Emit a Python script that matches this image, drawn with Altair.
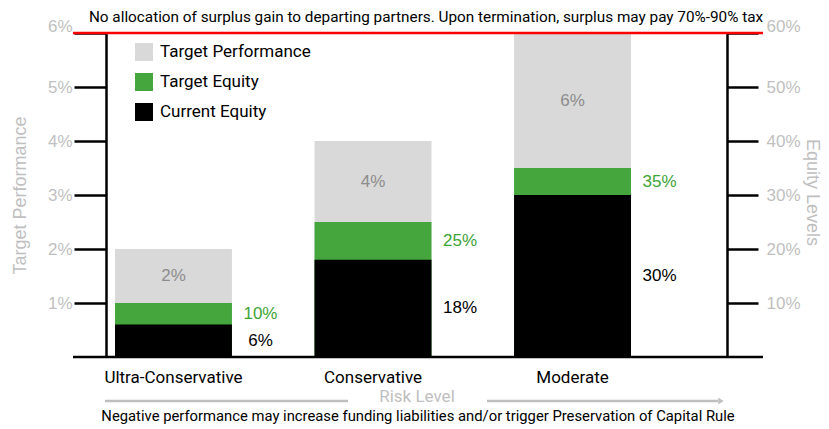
import altair as alt
import pandas as pd

categories = ["Ultra-Conservative", "Conservative", "Moderate"]
target_performance = [0.02, 0.04, 0.06]
target_equity = [0.10, 0.25, 0.35]
current_equity = [0.06, 0.18, 0.30]

series_names = ["Target Performance", "Target Equity", "Current Equity"]
series_colors = ["#d9d9d9", "#44a63d", "#000000"]

top_note = "No allocation of surplus gain to departing partners. Upon termination, surplus may pay 70%-90% tax"
bottom_note = "Negative performance may increase funding liabilities and/or trigger Preservation of Capital Rule"

df = pd.DataFrame({"category": categories, "tp": target_performance,
                   "te": target_equity, "ce": current_equity})

NARROW = "Roboto"
WIDE = "Liberation Sans"
AXGRAY = "#bfbfbf"

x_enc = alt.X("category:N", sort=categories,
              scale=alt.Scale(range=[9, 525], paddingInner=0.414, paddingOuter=0),
              axis=alt.Axis(title=None, labelAngle=0, ticks=False, domain=False,
                            labelFont=NARROW, labelFontSize=17, labelColor="black",
                            labelPadding=12, labelBaseline="top"))

color_enc = alt.Color("series:N", scale=alt.Scale(domain=series_names, range=series_colors),
                      legend=alt.Legend(title=None, orient="none", legendX=29, legendY=10,
                                        symbolType="square", symbolSize=324, symbolStrokeWidth=0,
                                        labelFont=NARROW, labelFontSize=17, labelColor="black",
                                        rowPadding=12, labelOffset=7, padding=0))

left_axis = alt.Axis(orient="left", values=[0.01, 0.02, 0.03, 0.04, 0.05, 0.06], format=".0%",
                     tickSize=32, tickColor="black", tickWidth=2.5,
                     domainColor="black", domainWidth=2.5, grid=False,
                     labelFont=WIDE, labelFontSize=17, labelColor=AXGRAY, labelPadding=2,
                     labelOffset={"condition": {"test": "datum.value > 0.055", "value": -7},
                                  "value": 0},
                     title="Target Performance", titleFont=WIDE, titleFontSize=18,
                     titleFontWeight="normal", titleColor=AXGRAY,
                     titleX=-86, titleY=162, titleAngle=-90, titleAlign="center",
                     titleBaseline="middle")

right_axis = alt.Axis(orient="right", values=[0.1, 0.2, 0.3, 0.4, 0.5, 0.6], format=".0%",
                      tickSize=31, tickColor="black", tickWidth=2.5,
                      domainColor="black", domainWidth=2.5, grid=False,
                      labelFont=WIDE, labelFontSize=17, labelColor=AXGRAY, labelPadding=8,
                      labelOffset={"condition": {"test": "datum.value > 0.55", "value": -7},
                                   "value": 0},
                      title="Equity Levels", titleFont=WIDE, titleFontSize=18,
                      titleFontWeight="normal", titleColor=AXGRAY,
                      titleX=84, titleY=159, titleAngle=90, titleAlign="center",
                      titleBaseline="middle")

yl = alt.Scale(domain=[0, 0.06], nice=False, zero=True)
yr = alt.Scale(domain=[0, 0.6], nice=False, zero=True)

base = alt.Chart(df)

gray_bars = base.transform_calculate(series="'Target Performance'").mark_bar().encode(
    x=x_enc, y=alt.Y("tp:Q", scale=yl, axis=left_axis, stack=None), color=color_enc)
gray_text = base.transform_calculate(ypos="(datum.te/10 + datum.tp)/2").mark_text(
    font=WIDE, fontSize=17, color="#8c8c8c").encode(
    x=x_enc, y=alt.Y("ypos:Q", scale=yl, axis=left_axis), text=alt.Text("tp:Q", format=".0%"))
left_layer = alt.layer(gray_bars, gray_text)

green_bars = base.transform_calculate(series="'Target Equity'").mark_bar().encode(
    x=x_enc, y=alt.Y("te:Q", scale=yr, axis=right_axis, stack=None), color=color_enc)
black_bars = base.transform_calculate(series="'Current Equity'").mark_bar().encode(
    x=x_enc, y=alt.Y("ce:Q", scale=yr, axis=right_axis, stack=None), color=color_enc)
green_text = base.transform_calculate(ypos="(datum.te + datum.ce)/2").mark_text(
    font=WIDE, fontSize=17, color="#3da336", dx=87).encode(
    x=x_enc, y=alt.Y("ypos:Q", scale=yr, axis=right_axis), text=alt.Text("te:Q", format=".0%"))
black_text = base.transform_calculate(ypos="datum.ce / 2").mark_text(
    font=WIDE, fontSize=17, color="black", dx=87).encode(
    x=x_enc, y=alt.Y("ypos:Q", scale=yr, axis=right_axis), text=alt.Text("ce:Q", format=".0%"))

one = alt.Data(values=[{}])
red_line = alt.Chart(one).mark_rule(color="#ff0000", strokeWidth=2.5).encode(
    x=alt.value(-33), x2=alt.value(657), y=alt.value(0))
baseline = alt.Chart(one).mark_rule(color="black", strokeWidth=2.5).encode(
    x=alt.value(-33), x2=alt.value(657), y=alt.value(324))
risk_left = alt.Chart(one).mark_rule(color=AXGRAY, strokeWidth=2.5).encode(
    x=alt.value(-1), x2=alt.value(242), y=alt.value(368))
risk_right = alt.Chart(one).mark_rule(color=AXGRAY, strokeWidth=2.5).encode(
    x=alt.value(381), x2=alt.value(612), y=alt.value(368))
arrow = alt.Chart(one).mark_point(shape="triangle-right", filled=True, color=AXGRAY,
                                  size=40, opacity=1).encode(
    x=alt.value(615), y=alt.value(368))
risk_text = alt.Chart(one).mark_text(font=NARROW, fontSize=17, color=AXGRAY).encode(
    x=alt.value(311), y=alt.value(364), text=alt.value("Risk Level"))
top_text = alt.Chart(one).mark_text(font=NARROW, fontSize=15.3, color="black").encode(
    x=alt.value(320), y=alt.value(-16), text=alt.value(top_note))
bottom_text = alt.Chart(one).mark_text(font=NARROW, fontSize=14.8, color="black").encode(
    x=alt.value(312), y=alt.value(384), text=alt.value(bottom_note))

right_layer = alt.layer(green_bars, black_bars, green_text, black_text,
                        red_line, baseline, risk_left, risk_right, arrow,
                        risk_text, top_text, bottom_text)

chart = alt.layer(left_layer, right_layer).resolve_scale(y="independent").properties(
    width=621, height=324,
    autosize=alt.AutoSizeParams(type="none"),
    padding={"left": 98, "top": 25, "right": 94, "bottom": 70},
    background="white",
).configure_view(stroke=None)

chart.save("out.html", embed_options={"renderer": "svg", "actions": False})
